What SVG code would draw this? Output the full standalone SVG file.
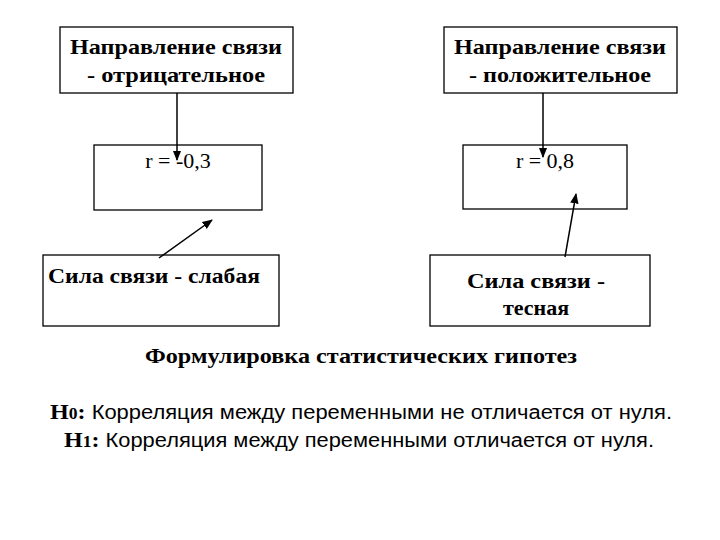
<svg xmlns="http://www.w3.org/2000/svg" width="720" height="540" viewBox="0 0 720 540">
<style>
.b{fill:#fff;stroke:#000;stroke-width:1.3}
.t{font-family:"Liberation Serif",serif;font-size:22px;fill:#000;text-anchor:middle}
.bd{font-weight:bold}
.s{font-family:"Liberation Sans",sans-serif;font-size:20px;font-weight:normal}
.c{stroke:#000;stroke-width:1.5;fill:none;marker-end:url(#a)}
</style>
<defs><marker id="a" viewBox="0 0 10 10" refX="9" refY="5" markerWidth="7" markerHeight="7" orient="auto"><path d="M0,1 L10,5 L0,9 z" fill="#000"/></marker></defs>
<rect width="720" height="540" fill="#fff"/>
<g id="n1"><rect class="b" x="60" y="27" width="233" height="66"/><text class="t bd" x="176" y="54" textLength="212" lengthAdjust="spacingAndGlyphs">Направление связи</text><text class="t bd" x="176" y="82" textLength="178" lengthAdjust="spacingAndGlyphs">- отрицательное</text></g>
<g id="n2"><rect class="b" x="444" y="27" width="233" height="66"/><text class="t bd" x="560" y="54" textLength="212" lengthAdjust="spacingAndGlyphs">Направление связи</text><text class="t bd" x="560" y="82" textLength="182" lengthAdjust="spacingAndGlyphs">- положительное</text></g>
<g id="n3"><rect class="b" x="94" y="145" width="168" height="65"/><text class="t" x="178" y="168">r = -0,3</text></g>
<g id="n4"><rect class="b" x="463" y="145" width="164" height="64"/><text class="t" x="545" y="168">r = 0,8</text></g>
<g id="n5"><rect class="b" x="43" y="255" width="236" height="71"/><text class="t bd" x="154" y="283" textLength="212" lengthAdjust="spacingAndGlyphs">Сила связи  - слабая</text></g>
<g id="n6"><rect class="b" x="430" y="255" width="220" height="71"/><text class="t bd" x="536" y="288" textLength="138" lengthAdjust="spacingAndGlyphs">Сила связи -</text><text class="t bd" x="536" y="315">тесная</text></g>
<g id="connectors">
<line class="c" x1="177" y1="93" x2="177" y2="160"/>
<line class="c" x1="543" y1="93" x2="543" y2="157"/>
<line class="c" x1="159" y1="258" x2="212" y2="220"/>
<line class="c" x1="565" y1="257" x2="576" y2="194"/>
</g>
<text class="t bd" x="361" y="363" textLength="432" lengthAdjust="spacingAndGlyphs">Формулировка статистических гипотез</text>
<text class="t" x="361" y="419" textLength="622" lengthAdjust="spacingAndGlyphs"><tspan class="bd">Н</tspan><tspan class="bd" font-size="16">0</tspan><tspan class="bd">:</tspan><tspan class="s"> Корреляция между переменными не отличается от нуля.</tspan></text>
<text class="t" x="359" y="447" textLength="590" lengthAdjust="spacingAndGlyphs"><tspan class="bd">Н</tspan><tspan class="bd" font-size="16">1</tspan><tspan class="bd">:</tspan><tspan class="s"> Корреляция между переменными отличается от нуля.</tspan></text>
</svg>
